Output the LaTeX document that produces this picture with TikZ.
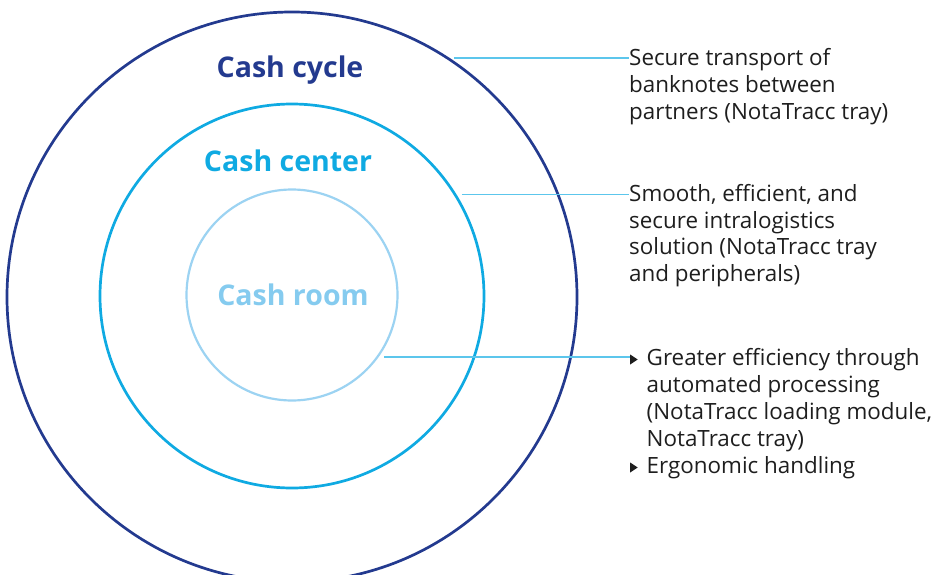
\documentclass[tikz,border=0pt]{standalone}
\usepackage{fontspec}
\setmainfont{Open Sans}
\usetikzlibrary{positioning}
\definecolor{cyclecol}{HTML}{233A8F}
\definecolor{centercol}{HTML}{0FAAE2}
\definecolor{roomcol}{HTML}{9CD3F2}
\definecolor{roomtext}{HTML}{85CBEF}
\definecolor{leadcol}{HTML}{5CC6EC}
\definecolor{textcol}{HTML}{1E1E1E}
\newcommand\tri{\tikz[baseline=0pt,x=1pt,y=1pt]\fill[textcol] (0,0.5) -- (0,10.5) -- (7.5,5.5) -- cycle;}
\begin{document}
\begin{tikzpicture}[x=1pt, y=-1pt,
    ring/.style={circle, inner sep=0pt, outer sep=0pt, draw, line width=2.7pt},
    title/.style={font=\fontsize{28.5}{32}\selectfont\bfseries},
    leader/.style={draw=leadcol, line width=1.3pt, shorten <=7pt},
    info/.style={anchor=base west, inner sep=0pt, text=textcol, font=\fontsize{22.4}{27}\selectfont}]
  \useasboundingbox (0,0) rectangle (935,575);
  % the three rings
  \node[ring, draw=cyclecol, minimum size=570pt]  (cycle)  at (292,297) {};
  \node[ring, draw=centercol, minimum size=384pt] (center) at (292,296) {};
  \node[ring, draw=roomcol, line width=2.2pt, minimum size=211pt] (room) at (292,295) {};
  % titles
  \node[title, text=cyclecol]  (cycletitle)  at (290,70)  {Cash cycle};
  \node[title, text=centercol] (centertitle) at (288,161) {Cash center};
  \node[title, text=roomtext]  (roomtitle)   at (293,295) {Cash room};
  % texts on the right
  \node[info] (transport) at (629,66) {\begin{tabular}[t]{@{}l@{}}
      Secure transport of\\ banknotes between\\ partners (NotaTracc tray)\end{tabular}};
  \node[info] (intra) at (629,201) {\begin{tabular}[t]{@{}l@{}}
      Smooth, efficient, and\\ secure intralogistics\\ solution (NotaTracc tray\\ and peripherals)\end{tabular}};
  \node[info] (processing) at (630,365) {\begin{tabular}[t]{@{}l@{\hspace{9pt}}l@{}}
      \tri & Greater efficiency through\\ & automated processing\\ & (NotaTracc loading module,\\ & NotaTracc tray)\\
      \tri & Ergonomic handling\end{tabular}};
  % leaders
  \draw[leader] (cycle.57.4)  -- (cycle.57.4 -| transport.west);
  \draw[leader] (center.32.8) -- (center.32.8 -| intra.west);
  \draw[leader] (room.-36.2)  -- (room.-36.2 -| processing.west);
\end{tikzpicture}
\end{document}
